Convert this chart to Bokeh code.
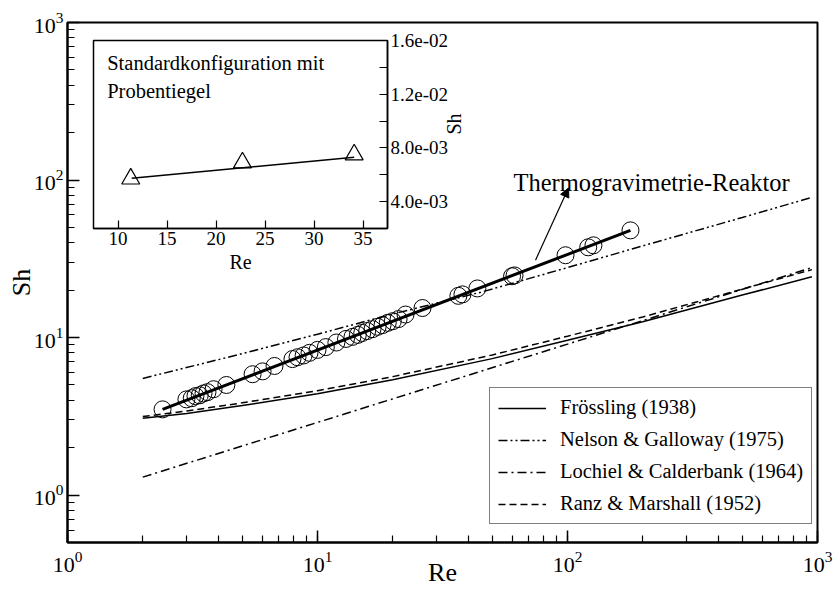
import math
from bokeh.plotting import figure
from bokeh.models import Arrow, NormalHead, Label, FixedTicker, CustomJSTickFormatter
from bokeh.layouts import column
from bokeh.embed import file_html
from bokeh.resources import INLINE

FONT = "Liberation Serif"

# ---------------- data ----------------
# Experimental points, Thermogravimetrie-Reaktor
re_exp = [2.4, 2.99, 3.14, 3.25, 3.38, 3.50, 3.63, 3.84, 4.32, 5.50, 6.03, 6.73, 7.94,
          8.32, 8.80, 9.29, 10.0, 10.8, 11.9, 13.0, 13.8, 14.5, 15.1, 15.8, 16.6, 17.4,
          18.2, 19.1, 20.0, 21.1, 22.5, 26.3, 36.6, 38.0, 43.6, 60.0, 61.4, 98.2, 121.0,
          127.0, 178.6]
sh_exp = [3.5, 4.05, 4.12, 4.25, 4.30, 4.42, 4.50, 4.70, 5.0, 5.85, 6.1, 6.6, 7.3,
          7.5, 7.7, 8.0, 8.35, 8.7, 9.3, 9.8, 10.1, 10.4, 10.7, 11.0, 11.3, 11.7,
          12.0, 12.4, 12.7, 13.1, 14.0, 15.4, 18.4, 18.8, 20.5, 24.5, 24.8, 33.3, 37.4,
          38.5, 47.9]
# Fit line through the experimental points
fit_re = [2.4, 178.6]
fit_sh = [3.5, 47.9]

# Correlations
re_froessling = [2, 3, 5, 10, 20, 50, 100, 200, 500, 950]
sh_froessling = [3.07, 3.30, 3.70, 4.40, 5.40, 7.35, 9.6, 12.6, 18.6, 24.3]

re_nelson = [2, 5, 10, 20, 45, 100, 200, 500, 950]
sh_nelson = [5.5, 7.9, 10.5, 14.1, 19.4, 27.8, 38.2, 57.8, 77.6]

re_lochiel = [2, 950]
sh_lochiel = [1.30, 27.8]

re_ranz = [2, 3, 5, 10, 20, 50, 100, 200, 500, 950]
sh_ranz = [3.15, 3.42, 3.85, 4.6, 5.65, 7.75, 10.2, 13.5, 20.3, 27.0]

legend_labels = ["Frössling (1938)", "Nelson & Galloway (1975)",
                 "Lochiel & Calderbank (1964)", "Ranz & Marshall (1952)"]

# Annotation
annot_text = "Thermogravimetrie-Reaktor"
annot_pos = (60.8, 97.0)
arrow_start = (74.5, 31.0)
arrow_end = (100.9, 89.0)

# Inset: Standardkonfiguration mit Probentiegel
inset_re = [11.3, 22.7, 34.1]
inset_sh = [0.0057, 0.0069, 0.0075]
inset_fit_re = [11.4, 34.1]
inset_fit_sh = [0.00575, 0.00730]
inset_xticks = [10, 15, 20, 25, 30, 35]
inset_yticks = [0.004, 0.008, 0.012, 0.016]
inset_yminor = [0.006, 0.010, 0.014]
inset_text = ["Standardkonfiguration mit", "Probentiegel"]

# ---------------- main figure ----------------
p = figure(x_axis_type="log", y_axis_type="log", x_range=(1, 1000), y_range=(0.5, 1000),
           frame_width=750, frame_height=520, output_backend="svg", toolbar_location=None,
           min_border_left=67, min_border_top=22, min_border_right=17, min_border_bottom=50,
           background_fill_color="white", border_fill_color="white")
p.frame_align = False
p.grid.visible = False
p.outline_line_color = "black"
p.outline_line_width = 2
p.outline_line_alpha = 1

for ax in (p.xaxis[0], p.yaxis[0]):
    ax.axis_line_width = 2
    ax.major_tick_in = 12
    ax.major_tick_out = 0
    ax.minor_tick_in = 7
    ax.minor_tick_out = 0
    ax.major_tick_line_width = 1.5
    ax.minor_tick_line_width = 1.2
    ax.major_label_text_font = FONT
    ax.major_label_text_font_size = "22px"
    ax.major_label_text_color = "black"
    ax.axis_label_text_font = FONT
    ax.axis_label_text_font_size = "26px"
    ax.axis_label_text_font_style = "normal"
    ax.axis_label_text_color = "black"

p.xaxis.axis_label = "Re"
p.yaxis.axis_label = "Sh"
p.yaxis.major_label_standoff = 4
p.yaxis.axis_label_standoff = -5
p.xaxis.major_label_standoff = 9
p.xaxis.axis_label_standoff = -17

p.line(re_froessling, sh_froessling, line_color="black", line_width=1.5,
       legend_label=legend_labels[0])
p.line(re_nelson, sh_nelson, line_color="black", line_width=1.5,
       line_dash="9 3 2 3 2 3", legend_label=legend_labels[1])
p.line(re_lochiel, sh_lochiel, line_color="black", line_width=1.5,
       line_dash="9 4 2 4", legend_label=legend_labels[2])
p.line(re_ranz, sh_ranz, line_color="black", line_width=1.5,
       line_dash="7 4", legend_label=legend_labels[3])

p.line(fit_re, fit_sh, line_color="black", line_width=3)
p.scatter(re_exp, sh_exp, marker="circle", size=17, fill_color=None,
          line_color="black", line_width=1)

p.add_layout(Arrow(end=NormalHead(size=9, fill_color="black", line_color="black"),
                   x_start=arrow_start[0], y_start=arrow_start[1],
                   x_end=arrow_end[0], y_end=arrow_end[1],
                   line_color="black", line_width=1.2))
p.add_layout(Label(x=annot_pos[0], y=annot_pos[1], text=annot_text,
                   text_font=FONT, text_font_size="24.5px", text_color="black",
                   text_baseline="alphabetic"))

lg = p.legend[0]
lg.location = (422, 18)
lg.label_text_font = FONT
lg.label_text_font_size = "20.5px"
lg.label_text_color = "black"
lg.glyph_width = 48
lg.glyph_height = 22
lg.label_height = 22
lg.label_standoff = 14
lg.padding = 8
lg.spacing = 9
lg.margin = 0
lg.border_line_color = "black"
lg.border_line_width = 1
lg.background_fill_alpha = 1

# ---------------- inset figure ----------------
ins = figure(x_range=(7.5, 37.5), y_range=(0.002, 0.016), frame_width=294, frame_height=188,
             y_axis_location="right", output_backend="svg", toolbar_location=None,
             min_border_left=4, min_border_top=12, min_border_right=4, min_border_bottom=4,
             background_fill_color="white", border_fill_alpha=0)
ins.frame_align = False
ins.grid.visible = False
ins.outline_line_color = "black"
ins.outline_line_width = 1.5
ins.xaxis.ticker = FixedTicker(ticks=inset_xticks)
ins.yaxis.ticker = FixedTicker(ticks=inset_yticks, minor_ticks=inset_yminor)
ins.yaxis.formatter = CustomJSTickFormatter(code="""
    const s = tick.toExponential(1);
    return s.replace(/e([+-])(\\d)$/, 'e$10$2');
""")
for ax in (ins.xaxis[0], ins.yaxis[0]):
    ax.axis_line_width = 1.5
    ax.major_tick_in = 8
    ax.major_tick_out = 0
    ax.minor_tick_in = 8
    ax.minor_tick_out = 0
    ax.major_tick_line_width = 1.2
    ax.minor_tick_line_width = 1.2
    ax.major_label_text_font = FONT
    ax.major_label_text_font_size = "19px"
    ax.major_label_text_color = "black"
    ax.axis_label_text_font = FONT
    ax.axis_label_text_font_size = "20px"
    ax.axis_label_text_font_style = "normal"
    ax.axis_label_text_color = "black"
    ax.major_label_standoff = 3
    ax.axis_label_standoff = 3
ins.xaxis.axis_label = "Re"
ins.yaxis.axis_label = "Sh"
if "axis_label_orientation" in ins.yaxis[0].properties():
    ins.yaxis[0].axis_label_orientation = math.pi / 2

ins.line(inset_fit_re, inset_fit_sh, line_color="black", line_width=1.5)
ins.scatter(inset_re, inset_sh, marker="triangle", size=18, fill_color=None,
            line_color="black", line_width=1.2)
ins.add_layout(Label(x=8.9, y=0.01435, text=inset_text[0], text_font=FONT,
                     text_font_size="20.5px", text_color="black", text_baseline="middle"))
ins.add_layout(Label(x=8.9, y=0.01225, text=inset_text[1], text_font=FONT,
                     text_font_size="20.5px", text_color="black", text_baseline="middle"))

ins.styles = {"position": "absolute", "left": "89px", "top": "28px", "z-index": "10"}

root = column(p, ins, styles={"position": "relative"})
open("out.html", "w").write(file_html(root, INLINE))
